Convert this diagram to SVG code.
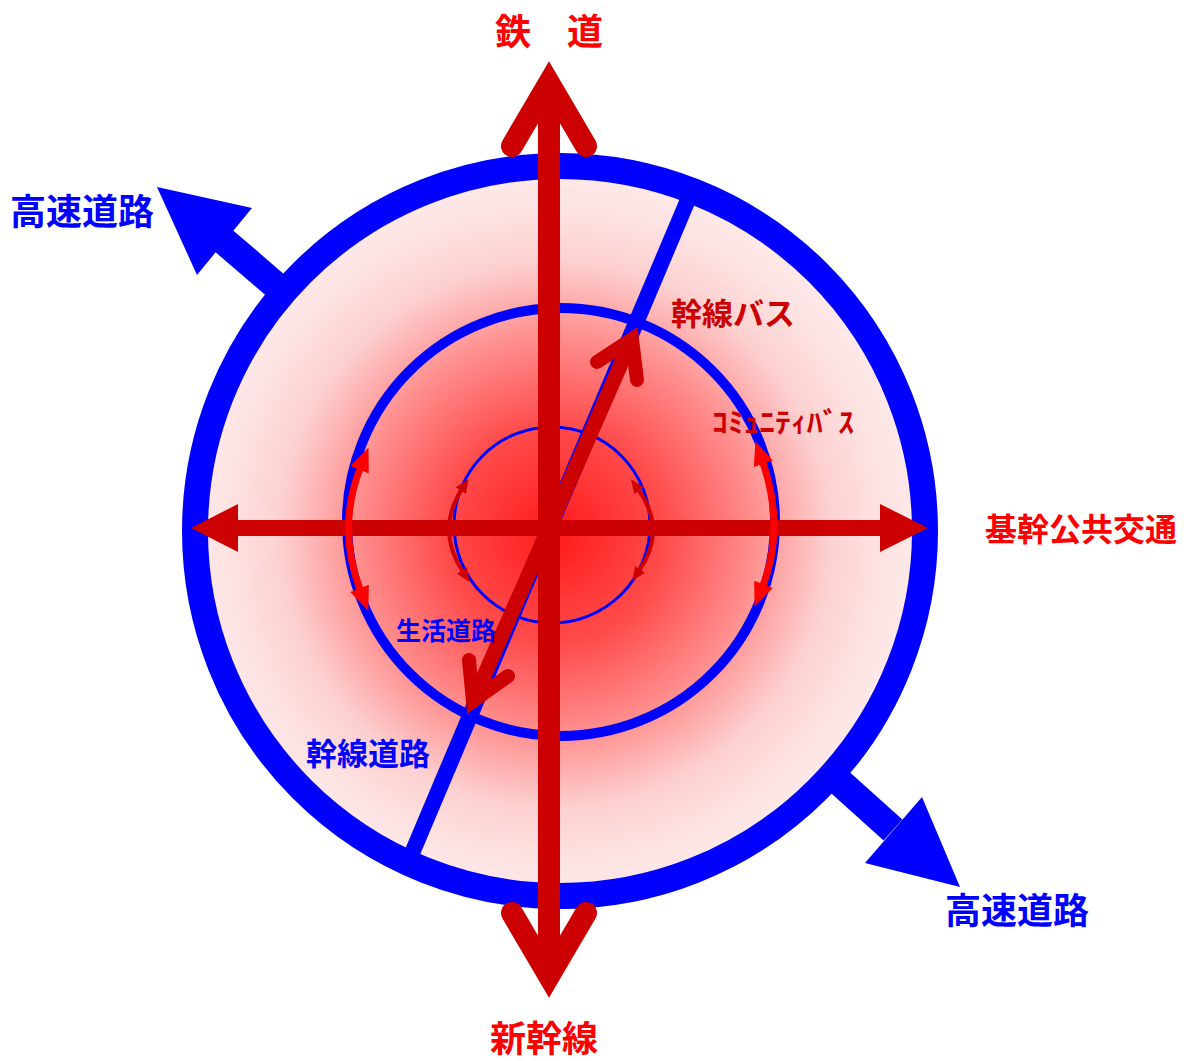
<svg xmlns="http://www.w3.org/2000/svg" width="1192" height="1061" viewBox="0 0 1192 1061">
<style>
text{font-family:"Noto Sans CJK JP","Noto Sans",sans-serif;font-weight:bold}
.red{fill:#ff0000}
.dred{fill:#cc0000}
.blue{fill:#0000ff}
.ring{fill:none;stroke:#0000ff}
.rl{stroke:#cc0000;fill:none}
.head{stroke:#cc0000;fill:none;stroke-linecap:round;stroke-linejoin:miter;stroke-miterlimit:10}
</style>
<defs>
<radialGradient id="g" gradientUnits="userSpaceOnUse" cx="555" cy="535" r="365">
<stop offset="0" stop-color="#ff1a1a"/>
<stop offset="0.3" stop-color="#ff4c4c"/>
<stop offset="0.55" stop-color="#ff9090"/>
<stop offset="0.75" stop-color="#fdd0d0"/>
<stop offset="0.9" stop-color="#fde3e3"/>
<stop offset="1" stop-color="#fde9e9"/>
</radialGradient>
<marker id="mb" viewBox="0 0 24 20" refX="4" refY="10" markerWidth="24" markerHeight="20" markerUnits="userSpaceOnUse" orient="auto-start-reverse">
<path d="M0,0 L24,10 L0,20 z" fill="#ff0000"/>
</marker>
<marker id="ms" viewBox="0 0 14 12" refX="2" refY="6" markerWidth="14" markerHeight="12" markerUnits="userSpaceOnUse" orient="auto-start-reverse">
<path d="M0,0 L14,6 L0,12 z" fill="#cc0000"/>
</marker>
</defs>

<g id="highway-arrows">
<line x1="303" y1="309" x2="224" y2="241" stroke="#0000ff" stroke-width="28"/>
<polygon points="157,187 252,208 197,275" fill="#0000ff"/>
<line x1="813" y1="758" x2="893" y2="830" stroke="#0000ff" stroke-width="28"/>
<polygon points="960,887 922,797 865,863" fill="#0000ff"/>
</g>

<g id="outer-area">
<circle cx="560" cy="531" r="365" fill="url(#g)" stroke="#0000ff" stroke-width="26"/>
</g>

<g id="trunk-road">
<line x1="690" y1="195" x2="410" y2="858" stroke="#0000ff" stroke-width="16"/>
</g>

<g id="middle-circle">
<circle cx="561" cy="522" r="214" class="ring" stroke-width="10"/>
</g>
<g id="inner-circle">
<circle cx="552" cy="525" r="98" class="ring" stroke-width="3"/>
</g>

<g id="connectors">
<line x1="238" y1="528" x2="880" y2="528" class="rl" stroke-width="16"/>
<polygon points="928,528 880,504 880,552" fill="#cc0000"/>
<polygon points="191,528 238,504 238,552" fill="#cc0000"/>
<line x1="549" y1="84" x2="549" y2="975" class="rl" stroke-width="22"/>
<polyline points="512,146 549,83 586,146" class="head" stroke-width="22"/>
<polyline points="512,913 549,976 586,913" class="head" stroke-width="22"/>
<line x1="473" y1="701" x2="632" y2="339" class="rl" stroke-width="15"/>
<polyline points="597,362 632,339 637,380" class="head" stroke-width="14"/>
<polyline points="469,660 473,701 508,676" class="head" stroke-width="14"/>
<path d="M361,466 Q336,528 361,592" fill="none" stroke="#ff0000" stroke-width="7" marker-start="url(#mb)" marker-end="url(#mb)"/>
<path d="M762,460 Q786,528 762,588" fill="none" stroke="#ff0000" stroke-width="7" marker-start="url(#mb)" marker-end="url(#mb)"/>
<path d="M462,489 Q435.5,530 463,572" fill="none" stroke="#cc0000" stroke-width="4" marker-start="url(#ms)" marker-end="url(#ms)"/>
<path d="M638,489 Q667.5,530 639,571" fill="none" stroke="#cc0000" stroke-width="4" marker-start="url(#ms)" marker-end="url(#ms)"/>
</g>

<g id="labels">
<text x="549" y="45" font-size="36" text-anchor="middle" class="red">鉄　道</text>
<text x="544" y="1052" font-size="36" text-anchor="middle" class="red">新幹線</text>
<text x="10" y="225" font-size="36" class="blue">高速道路</text>
<text x="945" y="924" font-size="36" class="blue">高速道路</text>
<text x="985" y="541" font-size="32" class="red">基幹公共交通</text>
<text x="671" y="325" font-size="31" class="dred">幹線バス</text>
<text x="712" y="433" font-size="28" class="dred" textLength="142" lengthAdjust="spacingAndGlyphs">ｺﾐｭﾆﾃｨﾊﾞｽ</text>
<text x="396" y="640" font-size="25" class="blue">生活道路</text>
<text x="306" y="765" font-size="31" class="blue">幹線道路</text>
</g>
</svg>
